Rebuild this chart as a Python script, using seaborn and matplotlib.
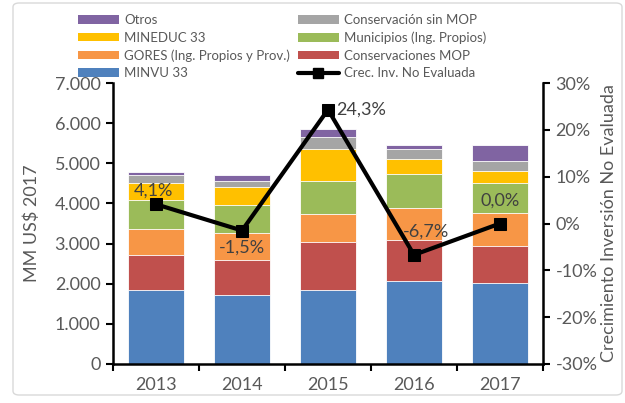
import matplotlib
matplotlib.use("Agg")
import matplotlib.pyplot as plt
import numpy as np
import pandas as pd
import seaborn as sns
from matplotlib.lines import Line2D
from matplotlib.patches import Patch, FancyBboxPatch
from matplotlib.ticker import FuncFormatter, FixedLocator

years = ['2013', '2014', '2015', '2016', '2017']

# componentes de inversión (MM US$ 2017), de abajo hacia arriba
minvu = [1850, 1730, 1840, 2060, 2020]
cons_mop = [860, 850, 1190, 1020, 910]
gores = [660, 680, 710, 810, 830]
municipios = [720, 690, 830, 850, 750]
mineduc = [430, 470, 790, 360, 310]
cons_sin_mop = [180, 150, 290, 260, 240]
otros = [80, 150, 200, 100, 400]

# crecimiento inversión no evaluada (%)
crec = [4.1, -1.5, 24.3, -6.7, 0.0]

series = [
    ('MINVU 33', minvu, '#4F81BD'),
    ('Conservaciones MOP', cons_mop, '#C0504D'),
    ('GORES (Ing. Propios y Prov.)', gores, '#F79646'),
    ('Municipios (Ing. Propios)', municipios, '#9BBB59'),
    ('MINEDUC 33', mineduc, '#FFC000'),
    ('Conservación sin MOP', cons_sin_mop, '#A5A5A5'),
    ('Otros', otros, '#8064A2'),
]

TXT = '#595959'

sns.set_style('white')
plt.rcParams['font.family'] = ['Lato', 'DejaVu Sans']


def main():
    fig = plt.figure(figsize=(6.25, 4.03), dpi=100)
    ax = fig.add_axes([113 / 625, 1 - 364 / 403, 430 / 625, 281 / 403])

    # barras apiladas: se dibujan los acumulados de mayor a menor
    cum = np.cumsum([s[1] for s in series], axis=0)
    for i in range(len(series) - 1, -1, -1):
        df = pd.DataFrame({'year': years, 'val': cum[i]})
        sns.barplot(data=df, x='year', y='val', color=series[i][2], saturation=1,
                    width=0.65, edgecolor='white', linewidth=0.6, ax=ax, zorder=2)

    ax.set_xlim(-0.5, 4.5)
    ax.set_ylim(0, 7000)
    ax.set_yticks(np.arange(0, 7001, 1000))
    ax.yaxis.set_major_formatter(FuncFormatter(lambda v, p: f'{v:,.0f}'.replace(',', '.')))
    ax.set_xlabel('')
    ax.set_ylabel('MM US$ 2017', fontsize=13, color=TXT)
    ax.yaxis.set_label_coords(-0.17, 0.5)
    ax.tick_params(axis='y', direction='out', length=5, width=1.5, color='black',
                   labelsize=13, labelcolor=TXT, pad=4, left=True)
    ax.tick_params(axis='x', length=0, labelsize=13, labelcolor=TXT, pad=9)
    ax.xaxis.set_minor_locator(FixedLocator([-0.5, 0.5, 1.5, 2.5, 3.5, 4.5]))
    ax.tick_params(axis='x', which='minor', direction='out', length=5, width=1.5,
                   color='black', bottom=True)
    for s in ['left', 'bottom']:
        ax.spines[s].set_linewidth(1.8)
        ax.spines[s].set_color('black')
    ax.spines['top'].set_visible(False)
    ax.spines['right'].set_visible(False)

    # eje secundario: crecimiento
    ax2 = ax.twinx()
    sns.lineplot(x=np.arange(len(years)), y=crec, ax=ax2, color='black', linewidth=3,
                 marker='s', markersize=8, markeredgecolor='black', zorder=5)
    ax2.set_ylim(-30, 30)
    ax2.set_yticks(np.arange(-30, 31, 10))
    ax2.yaxis.set_major_formatter(FuncFormatter(lambda v, p: f'{v:.0f}%'))
    ax2.set_ylabel('Crecimiento Inversión No Evaluada', fontsize=13, color=TXT)
    ax2.yaxis.set_label_coords(1.135, 0.5)
    ax2.tick_params(axis='y', direction='out', length=5, width=1.5, color='black',
                    labelsize=13, labelcolor=TXT, pad=4, right=True)
    ax2.spines['right'].set_linewidth(1.8)
    ax2.spines['right'].set_color('black')
    for s in ['top', 'left', 'bottom']:
        ax2.spines[s].set_visible(False)

    offsets = [(-3, 14, 'center'), (0, -17, 'center'), (8, 0, 'left'),
               (12, 23, 'center'), (0, 23, 'center')]
    for i, v in enumerate(crec):
        dx, dy, ha = offsets[i]
        ax2.annotate(f'{v:.1f}%'.replace('.', ','), (i, v), xytext=(dx, dy),
                     textcoords='offset pixels', ha=ha, va='center',
                     fontsize=13, color='#404040', zorder=6)

    # leyenda
    handles = {name: Patch(facecolor=c, edgecolor='none') for name, _, c in series}
    line_h = Line2D([], [], color='black', linewidth=3, marker='s', markersize=7)
    order = ['Otros', 'MINEDUC 33', 'GORES (Ing. Propios y Prov.)', 'MINVU 33',
             'Conservación sin MOP', 'Municipios (Ing. Propios)', 'Conservaciones MOP']
    hs = [handles[n] for n in order] + [line_h]
    labels = order + ['Crec. Inv. No Evaluada']
    fig.legend(hs, labels, loc='upper left', bbox_to_anchor=(78 / 625, 1 - 14 / 403),
               ncol=2, frameon=False, fontsize=9.5, labelcolor=TXT, handlelength=3.1,
               handleheight=0.65, handletextpad=0.4, columnspacing=0.6,
               labelspacing=0.42, borderpad=0, borderaxespad=0)

    # borde del área del gráfico
    border = FancyBboxPatch((13 / 625, 8 / 403), 609 / 625, 392 / 403,
                            boxstyle='round,pad=0,rounding_size=0.01',
                            transform=fig.transFigure, facecolor='none',
                            edgecolor='#D9D9D9', linewidth=1)
    fig.patches.append(border)

    fig.savefig('out.png', dpi=100)


if __name__ == '__main__':
    main()
